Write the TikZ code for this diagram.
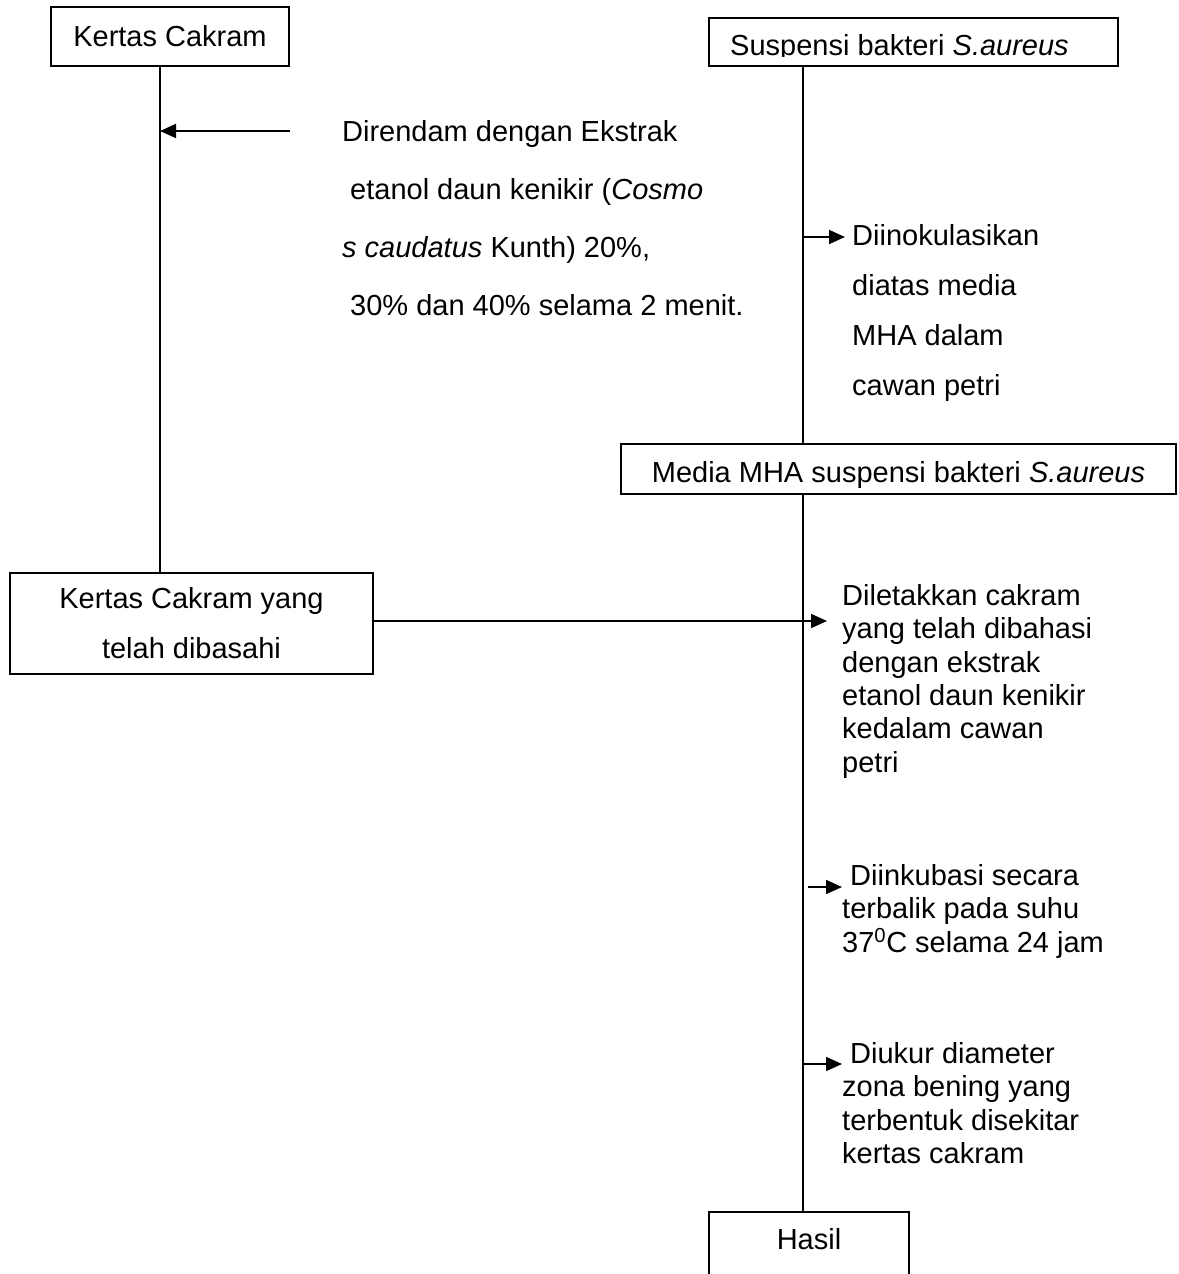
\documentclass[tikz,border=0pt]{standalone}
\usepackage{fontspec}
\setmainfont{Liberation Sans}
\usetikzlibrary{arrows.meta}
\begin{document}
\begin{tikzpicture}[x=1pt,y=-1pt,
  every node/.style={font=\fontsize{29}{35}\selectfont},
  box/.style={draw,line width=1.7pt,inner sep=0pt},
  ln/.style={line width=1.7pt},
  arr/.style={line width=1.7pt,-{Triangle[length=16pt,width=14pt]}},
  txt/.style={align=left,inner sep=0pt,anchor=north west}]
\clip (0,0) rectangle (1178,1274);
\fill[white] (0,0) rectangle (1178,1274);
\coordinate (spine) at (803,0);
\coordinate (lspine) at (160,0);

% boxes
\node[box,minimum width=238pt,minimum height=59pt] (kc) at (170,36.5) {Kertas Cakram};
\node[box,minimum width=409pt,minimum height=48pt] (sus) at (913.5,42) {};
\begin{scope}
  \clip (709,18) rectangle (1118,56.8);
  \node[inner sep=0pt,anchor=base west] (sustxt) at (730,55.5) {Suspensi bakteri \textit{S.aureus}};
\end{scope}
\node[box,minimum width=555pt,minimum height=50pt,text height=26pt,text depth=0pt] (mha) at (898.5,469) {Media MHA suspensi bakteri \textit{S.aureus}};
\node[box,minimum width=363pt,minimum height=101pt,align=center,font=\fontsize{29}{50}\selectfont] (kcb) at (191.5,623.5) {Kertas Cakram yang\\telah dibasahi};
\node[box,anchor=north,minimum width=200pt,minimum height=80pt,text height=21pt,text depth=25pt] (hasil) at (809,1211) {Hasil};

% left spine
\draw[ln] (lspine |- kc.south) -- (lspine |- kcb.north);
\coordinate (a1s) at (290,131);
\draw[arr] (a1s) -- (lspine |- a1s);
\node[txt,font=\fontsize{29}{58}\selectfont] (t1) at (342,120)
  {Direndam dengan Ekstrak\\
   \hspace*{8pt}etanol daun kenikir (\textit{Cosmo}\\
   \textit{s caudatus} Kunth) 20\%,\\
   \hspace*{8pt}30\% dan 40\% selama 2 menit.};

% right spine
\draw[ln] (spine |- sus.south) -- (spine |- mha.north);
\draw[ln] (spine |- mha.south) -- (spine |- hasil.north);

\coordinate (in1) at (845,237);
\draw[arr] (spine |- in1) -- (in1);
\node[txt,font=\fontsize{29}{50}\selectfont] (t2) at (852,224)
  {Diinokulasikan\\diatas media\\MHA dalam\\cawan petri};

\coordinate (in2) at (827,621);
\draw[arr] (kcb.east |- in2) -- (in2);
\node[txt,font=\fontsize{29}{33.4}\selectfont] (t3) at (842,584)
  {Diletakkan cakram\\yang telah dibahasi\\dengan ekstrak\\etanol daun kenikir\\kedalam cawan\\petri};

\coordinate (in3s) at (808,887);
\coordinate (in3) at (842,887);
\draw[arr] (in3s) -- (in3);
\node[txt,font=\fontsize{29}{33.4}\selectfont] (t4) at (842,864)
  {\hspace*{8pt}Diinkubasi secara\\terbalik pada suhu\\37\textsuperscript{0}C selama 24 jam};

\coordinate (in4) at (842,1064);
\draw[arr] (spine |- in4) -- (in4);
\node[txt,font=\fontsize{29}{33.4}\selectfont] (t5) at (842,1042)
  {\hspace*{8pt}Diukur diameter\\zona bening yang\\terbentuk disekitar\\kertas cakram};
\end{tikzpicture}
\end{document}
